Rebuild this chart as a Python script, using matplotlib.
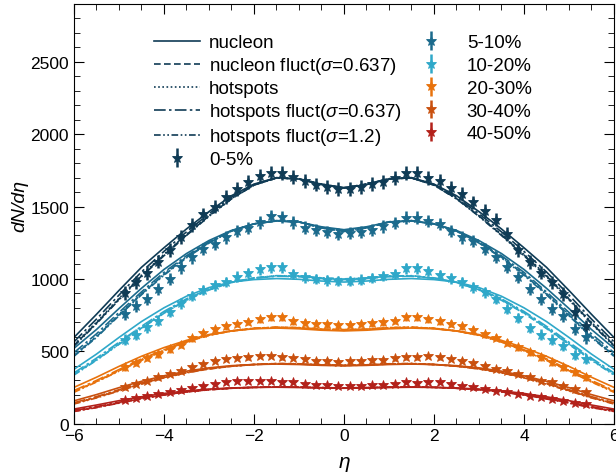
import matplotlib
matplotlib.use('Agg')
import matplotlib.pyplot as plt
from matplotlib.ticker import MultipleLocator

plt.rcParams['font.family'] = ['Liberation Sans', 'DejaVu Sans']
plt.rcParams['mathtext.fontset'] = 'custom'
plt.rcParams['mathtext.rm'] = 'Liberation Sans'
plt.rcParams['mathtext.it'] = 'Liberation Sans:italic'

# ---------------- data ----------------
centralities = ['0-5%', '5-10%', '10-20%', '20-30%', '30-40%', '40-50%']
colors = ['#0f3b55', '#1b6a8c', '#2fa8c9', '#e8720c', '#c9500e', '#b3211a']
model_labels = ['nucleon', r'nucleon fluct($\sigma$=0.637)', 'hotspots',
                r'hotspots fluct($\sigma$=0.637)', r'hotspots fluct($\sigma$=1.2)']

eta_model = [-6.0, -5.5, -5.0, -4.5, -4.0, -3.5, -3.0, -2.5, -2.0, -1.5, -1.0, -0.5, 0.0,
             0.5, 1.0, 1.5, 2.0, 2.5, 3.0, 3.5, 4.0, 4.5, 5.0, 5.5, 6.0]

# model curves [centrality][model]
c0_nuc   = [595, 755, 920, 1080, 1215, 1345, 1465, 1575, 1655, 1700, 1690, 1652, 1628, 1652, 1690, 1700, 1655, 1575, 1465, 1345, 1215, 1080, 920, 755, 595]
c0_nucfl = [540, 695, 860, 1020, 1165, 1305, 1435, 1555, 1648, 1698, 1692, 1655, 1630, 1655, 1692, 1698, 1648, 1555, 1435, 1305, 1165, 1020, 860, 695, 540]
c0_hot   = [545, 700, 865, 1025, 1170, 1308, 1437, 1556, 1649, 1698, 1692, 1655, 1630, 1655, 1692, 1698, 1649, 1556, 1437, 1308, 1170, 1025, 865, 700, 545]
c0_hfl1  = [565, 722, 888, 1048, 1190, 1325, 1450, 1565, 1652, 1698, 1690, 1652, 1628, 1652, 1690, 1698, 1652, 1565, 1450, 1325, 1190, 1048, 888, 722, 565]
c0_hfl2  = [535, 690, 855, 1015, 1160, 1300, 1432, 1553, 1648, 1698, 1692, 1655, 1630, 1655, 1692, 1698, 1648, 1553, 1432, 1300, 1160, 1015, 855, 690, 535]

c1_nuc   = [520, 650, 795, 935, 1065, 1175, 1265, 1335, 1380, 1400, 1393, 1360, 1340, 1360, 1393, 1400, 1380, 1335, 1265, 1175, 1065, 935, 795, 650, 520]
c1_nucfl = [470, 600, 750, 895, 1030, 1150, 1250, 1330, 1380, 1402, 1394, 1352, 1328, 1352, 1394, 1402, 1380, 1330, 1250, 1150, 1030, 895, 750, 600, 470]
c1_hot   = [475, 605, 755, 900, 1035, 1153, 1252, 1331, 1380, 1402, 1394, 1352, 1328, 1352, 1394, 1402, 1380, 1331, 1252, 1153, 1035, 900, 755, 605, 475]
c1_hfl1  = [490, 620, 768, 910, 1045, 1160, 1256, 1332, 1380, 1401, 1393, 1355, 1332, 1355, 1393, 1401, 1380, 1332, 1256, 1160, 1045, 910, 768, 620, 490]
c1_hfl2  = [465, 595, 745, 890, 1025, 1145, 1248, 1330, 1381, 1403, 1395, 1352, 1328, 1352, 1395, 1403, 1381, 1330, 1248, 1145, 1025, 890, 745, 595, 465]

c2_nuc   = [375, 480, 595, 705, 800, 880, 940, 978, 995, 1002, 997, 985, 978, 985, 997, 1002, 995, 978, 940, 880, 800, 705, 595, 480, 375]
c2_nucfl = [340, 440, 550, 660, 765, 855, 925, 975, 1005, 1020, 1018, 1005, 998, 1005, 1018, 1020, 1005, 975, 925, 855, 765, 660, 550, 440, 340]
c2_hot   = [345, 445, 555, 665, 770, 858, 927, 976, 1006, 1021, 1018, 1005, 998, 1005, 1018, 1021, 1006, 976, 927, 858, 770, 665, 555, 445, 345]
c2_hfl1  = [350, 452, 562, 672, 775, 862, 930, 977, 1004, 1018, 1015, 1002, 995, 1002, 1015, 1018, 1004, 977, 930, 862, 775, 672, 562, 452, 350]
c2_hfl2  = [335, 437, 547, 657, 762, 852, 923, 975, 1007, 1022, 1020, 1007, 1000, 1007, 1020, 1022, 1007, 975, 923, 852, 762, 657, 547, 437, 335]

c3_nuc   = [250, 320, 395, 465, 525, 575, 615, 640, 655, 660, 655, 645, 640, 645, 655, 660, 655, 640, 615, 575, 525, 465, 395, 320, 250]
c3_nucfl = [220, 290, 365, 440, 505, 565, 610, 640, 658, 665, 662, 652, 648, 652, 662, 665, 658, 640, 610, 565, 505, 440, 365, 290, 220]
c3_hot   = [222, 292, 368, 442, 507, 566, 611, 640, 658, 665, 662, 652, 648, 652, 662, 665, 658, 640, 611, 566, 507, 442, 368, 292, 222]
c3_hfl1  = [228, 298, 373, 447, 510, 568, 612, 640, 657, 664, 660, 650, 645, 650, 660, 664, 657, 640, 612, 568, 510, 447, 373, 298, 228]
c3_hfl2  = [216, 287, 362, 437, 503, 563, 609, 640, 659, 666, 663, 653, 649, 653, 663, 666, 659, 640, 609, 563, 503, 437, 362, 287, 216]

c4_nuc   = [157, 200, 248, 292, 330, 362, 385, 400, 408, 411, 408, 402, 399, 402, 408, 411, 408, 400, 385, 362, 330, 292, 248, 200, 157]
c4_nucfl = [138, 180, 228, 275, 318, 352, 378, 396, 408, 414, 412, 405, 402, 405, 412, 414, 408, 396, 378, 352, 318, 275, 228, 180, 138]
c4_hot   = [140, 182, 230, 277, 319, 353, 379, 397, 408, 414, 412, 405, 402, 405, 412, 414, 408, 397, 379, 353, 319, 277, 230, 182, 140]
c4_hfl1  = [144, 186, 234, 280, 322, 355, 380, 397, 408, 413, 411, 404, 401, 404, 411, 413, 408, 397, 380, 355, 322, 280, 234, 186, 144]
c4_hfl2  = [135, 177, 225, 272, 316, 350, 377, 396, 408, 415, 413, 406, 403, 406, 413, 415, 408, 396, 377, 350, 316, 272, 225, 177, 135]

c5_nuc   = [100, 128, 158, 185, 208, 226, 238, 246, 250, 251, 249, 246, 244, 246, 249, 251, 250, 246, 238, 226, 208, 185, 158, 128, 100]
c5_nucfl = [85, 112, 143, 172, 198, 219, 234, 244, 250, 253, 252, 248, 246, 248, 252, 253, 250, 244, 234, 219, 198, 172, 143, 112, 85]
c5_hot   = [86, 113, 144, 173, 199, 220, 234, 244, 250, 253, 252, 248, 246, 248, 252, 253, 250, 244, 234, 220, 199, 173, 144, 113, 86]
c5_hfl1  = [90, 117, 147, 176, 201, 221, 235, 244, 250, 252, 251, 247, 245, 247, 251, 252, 250, 244, 235, 221, 201, 176, 147, 117, 90]
c5_hfl2  = [83, 110, 141, 170, 197, 218, 233, 244, 250, 253, 252, 248, 246, 248, 252, 253, 250, 244, 233, 218, 197, 170, 141, 110, 83]

models = [
    [c0_nuc, c0_nucfl, c0_hot, c0_hfl1, c0_hfl2],
    [c1_nuc, c1_nucfl, c1_hot, c1_hfl1, c1_hfl2],
    [c2_nuc, c2_nucfl, c2_hot, c2_hfl1, c2_hfl2],
    [c3_nuc, c3_nucfl, c3_hot, c3_hfl1, c3_hfl2],
    [c4_nuc, c4_nucfl, c4_hot, c4_hfl1, c4_hfl2],
    [c5_nuc, c5_nucfl, c5_hot, c5_hfl1, c5_hfl2],
]

eta_data = [-4.875, -4.625, -4.375, -4.125, -3.875, -3.625, -3.375, -3.125, -2.875, -2.625,
            -2.375, -2.125, -1.875, -1.625, -1.375, -1.125, -0.875, -0.625, -0.375, -0.125,
            0.125, 0.375, 0.625, 0.875, 1.125, 1.375, 1.625, 1.875, 2.125, 2.375,
            2.625, 2.875, 3.125, 3.375, 3.625, 3.875, 4.125, 4.375, 4.625, 4.875,
            5.125, 5.375]

d0 = [903, 975, 1040, 1120, 1200, 1290, 1370, 1445, 1500, 1565, 1620, 1672, 1712, 1732, 1730, 1705, 1675, 1652, 1635, 1620,
      1622, 1632, 1655, 1672, 1695, 1733, 1730, 1700, 1676, 1630, 1585, 1528, 1470, 1410, 1310, 1200, 1118, 1044, 975, 895, 768, 671]
d1 = [756, 810, 860, 929, 998, 1079, 1148, 1205, 1240, 1286, 1332, 1350, 1390, 1432, 1425, 1390, 1355, 1336, 1325, 1310,
      1315, 1325, 1340, 1362, 1389, 1424, 1424, 1400, 1378, 1332, 1286, 1262, 1205, 1150, 1080, 1015, 929, 860, 791, 745, 653, 595]
d2 = [580, 615, 665, 712, 770, 830, 880, 925, 955, 978, 1015, 1040, 1065, 1079, 1079, 1035, 1010, 998, 990, 986,
      986, 995, 1008, 1020, 1032, 1072, 1072, 1055, 1025, 1003, 975, 941, 906, 860, 790, 730, 660, 615, 580, 537, 475, 445]
d3 = [390, 420, 455, 480, 515, 545, 590, 625, 650, 672, 688, 705, 720, 733, 733, 708, 698, 690, 685, 680,
      682, 688, 692, 700, 712, 735, 735, 720, 706, 690, 672, 648, 618, 592, 560, 526, 492, 458, 423, 390, 354, 320]
d4 = [250, 272, 295, 320, 342, 365, 388, 411, 434, 445, 452, 457, 468, 468, 457, 452, 445, 434, 434, 427,
      430, 434, 436, 441, 450, 457, 457, 466, 457, 445, 434, 418, 399, 378, 365, 342, 319, 296, 285, 261, 238, 215]
d5 = [160, 175, 190, 205, 218, 232, 243, 261, 273, 285, 291, 296, 296, 296, 289, 285, 273, 268, 263, 261,
      261, 261, 263, 266, 273, 285, 280, 289, 285, 273, 261, 250, 238, 227, 215, 204, 192, 180, 168, 157, 145, 132]
data = [d0, d1, d2, d3, d4, d5]
errors = [48, 42, 36, 24, 16, 12]

x_ticklabels = ['\u22126', '\u22124', '\u22122', '0', '2', '4', '6']

# ---------------- plot ----------------
linestyles = ['-', (0, (4, 2)), (0, (1, 1.5)), (0, (7, 2, 1.5, 2)), (0, (4, 1.5, 1, 1.5, 1, 1.5))]

fig = plt.figure(figsize=(6.16, 4.77), dpi=100)
ax = fig.add_axes([0.1201, 0.110, 0.8766, 0.8795])

for ci in range(len(centralities)):
    for mi in range(5):
        ax.plot(eta_model, models[ci][mi], color=colors[ci], ls=linestyles[mi], lw=1.2)

data_handles = []
for ci in range(len(centralities)):
    h = ax.errorbar(eta_data, data[ci], yerr=errors[ci], fmt='*', ms=7, color=colors[ci],
                    mec=colors[ci], mew=0.6, elinewidth=1.8, capsize=0, zorder=3)
    data_handles.append(h)

line_handles = [plt.Line2D([], [], color=colors[0], ls=linestyles[i], lw=1.2) for i in range(5)]

leg_kw = dict(frameon=False, fontsize=13.5, handlelength=2.45, borderpad=0, borderaxespad=0,
              loc='upper left')
leg1 = ax.legend(line_handles + [data_handles[0]], model_labels + [centralities[0]],
                 bbox_to_anchor=(0.148, 0.928), handletextpad=0.5, labelspacing=0.21, **leg_kw)
ax.add_artist(leg1)
leg2 = ax.legend(data_handles[1:], centralities[1:],
                 bbox_to_anchor=(0.619, 0.928), handletextpad=0.67, labelspacing=0.30, **leg_kw)

ax.set_xlim(-6, 6)
ax.set_ylim(0, 2900)
ax.set_xticks([-6, -4, -2, 0, 2, 4, 6])
ax.set_xticklabels(x_ticklabels)
ax.xaxis.set_minor_locator(MultipleLocator(0.5))
ax.yaxis.set_major_locator(MultipleLocator(500))
ax.yaxis.set_minor_locator(MultipleLocator(100))
ax.tick_params(which='both', direction='in', top=True, right=True, labelsize=12.5)
ax.tick_params(which='major', length=7)
ax.tick_params(which='minor', length=4)
ax.set_xlabel('η', fontstyle='italic', fontsize=15, labelpad=6)
ax.set_ylabel('dN/dη', fontstyle='italic', fontsize=14, labelpad=3)
ax.yaxis.set_label_coords(-0.085, 0.52)

fig.savefig('out.png', dpi=100)
